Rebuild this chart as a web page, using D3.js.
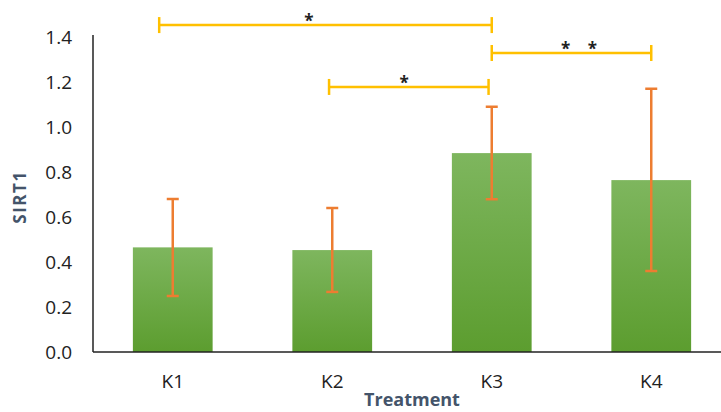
<!DOCTYPE html>
<html lang="en">
<head>
<meta charset="utf-8">
<script src="https://cdn.jsdelivr.net/npm/d3@7"></script>
<style>
  body { margin: 0; background: #fff; }
  svg text { font-family: "Open Sans", "DejaVu Sans", sans-serif; }
</style>
</head>
<body>
<div id="chart"></div>
<script>
// data
var categories = ["K1", "K2", "K3", "K4"];
var means = [0.465, 0.453, 0.884, 0.764];
var errLow = [0.249, 0.267, 0.679, 0.36];
var errHigh = [0.68, 0.64, 1.09, 1.17];
var yTicks = [0, 0.2, 0.4, 0.6, 0.8, 1.0, 1.2, 1.4];

// significance brackets: ends and label spot in category index, level in SIRT1 units
var bracketFrom = [-0.085, 0.98, 2];
var bracketTo = [2, 1.98, 3];
var bracketLevel = [1.453, 1.178, 1.329];
var bracketLabelAt = [0.854, 1.45, 2.547];
var bracketLabel = ["*", "*", "*    *"];

var width = 721, height = 412;
var margin = { top: 37, right: -10, bottom: 60, left: 93 };

var svg = d3.select("#chart").append("svg")
  .attr("width", width)
  .attr("height", height);

var defs = svg.append("defs");
var grad = defs.append("linearGradient")
  .attr("id", "barGrad")
  .attr("x1", 0).attr("y1", 0).attr("x2", 0).attr("y2", 1);
grad.append("stop").attr("offset", "0%").attr("stop-color", "#7eb65e");
grad.append("stop").attr("offset", "100%").attr("stop-color", "#5c9d2f");

var x = d3.scaleBand()
  .domain(categories)
  .range([margin.left, width - margin.right])
  .paddingInner(0.5)
  .paddingOuter(0.25);

// index scale for bracket ends
var xi = d3.scaleLinear()
  .domain([0, 1])
  .range([x("K1") + x.bandwidth() / 2, x("K2") + x.bandwidth() / 2]);

var y = d3.scaleLinear()
  .domain([0, 1.4])
  .range([height - margin.bottom, margin.top]);

// bars
svg.selectAll("rect.bar")
  .data(means)
  .enter().append("rect")
  .attr("class", "bar")
  .attr("x", function(d, i) { return x(categories[i]); })
  .attr("y", function(d) { return y(d); })
  .attr("width", x.bandwidth())
  .attr("height", function(d) { return y(0) - y(d); })
  .style("fill", "url(#barGrad)");

// axes
var yAxis = d3.axisLeft(y)
  .tickValues(yTicks)
  .tickFormat(d3.format(".1f"))
  .tickSize(0)
  .tickPadding(21);

var yGuide = svg.append("g")
  .attr("transform", "translate(" + margin.left + ",0)")
  .call(yAxis);
yGuide.select(".domain").remove();
yGuide.selectAll("text")
  .style("font-size", "19px")
  .style("fill", "#222");

svg.append("line")
  .attr("x1", margin.left).attr("x2", margin.left)
  .attr("y1", y(1.4) - 2).attr("y2", y(0))
  .style("stroke", "#222").style("stroke-width", 1.5);

var xAxis = d3.axisBottom(x).tickSize(0).tickPadding(23);
var xGuide = svg.append("g")
  .attr("transform", "translate(0," + y(0) + ")")
  .call(xAxis);
xGuide.select(".domain").remove();
xGuide.selectAll("text")
  .style("font-size", "19px")
  .style("fill", "#222");

svg.append("line")
  .attr("x1", margin.left).attr("x2", width)
  .attr("y1", y(0)).attr("y2", y(0))
  .style("stroke", "#222").style("stroke-width", 1.5);

// error bars
var eb = svg.selectAll("g.err")
  .data(categories)
  .enter().append("g")
  .attr("class", "err");
eb.append("line")
  .attr("x1", function(d) { return x(d) + x.bandwidth() / 2; })
  .attr("x2", function(d) { return x(d) + x.bandwidth() / 2; })
  .attr("y1", function(d, i) { return y(errLow[i]); })
  .attr("y2", function(d, i) { return y(errHigh[i]); });
eb.append("line")
  .attr("x1", function(d) { return x(d) + x.bandwidth() / 2 - 6; })
  .attr("x2", function(d) { return x(d) + x.bandwidth() / 2 + 6; })
  .attr("y1", function(d, i) { return y(errHigh[i]); })
  .attr("y2", function(d, i) { return y(errHigh[i]); });
eb.append("line")
  .attr("x1", function(d) { return x(d) + x.bandwidth() / 2 - 6; })
  .attr("x2", function(d) { return x(d) + x.bandwidth() / 2 + 6; })
  .attr("y1", function(d, i) { return y(errLow[i]); })
  .attr("y2", function(d, i) { return y(errLow[i]); });
eb.selectAll("line")
  .style("stroke", "#ed7d31")
  .style("stroke-width", 2.5);

// significance brackets
var br = svg.selectAll("g.bracket")
  .data(bracketLevel)
  .enter().append("g")
  .attr("class", "bracket");
br.append("line")
  .attr("x1", function(d, i) { return xi(bracketFrom[i]); })
  .attr("x2", function(d, i) { return xi(bracketTo[i]); })
  .attr("y1", function(d) { return y(d); })
  .attr("y2", function(d) { return y(d); });
br.append("line")
  .attr("x1", function(d, i) { return xi(bracketFrom[i]); })
  .attr("x2", function(d, i) { return xi(bracketFrom[i]); })
  .attr("y1", function(d) { return y(d) - 8; })
  .attr("y2", function(d) { return y(d) + 8; });
br.append("line")
  .attr("x1", function(d, i) { return xi(bracketTo[i]); })
  .attr("x2", function(d, i) { return xi(bracketTo[i]); })
  .attr("y1", function(d) { return y(d) - 8; })
  .attr("y2", function(d) { return y(d) + 8; });
br.selectAll("line")
  .style("stroke", "#ffc000")
  .style("stroke-width", 2.5);
br.append("text")
  .attr("x", function(d, i) { return xi(bracketLabelAt[i]); })
  .attr("y", function(d) { return y(d) + 2; })
  .attr("text-anchor", "middle")
  .attr("xml:space", "preserve")
  .style("font-size", "17px")
  .style("font-weight", "bold")
  .style("fill", "#222")
  .style("white-space", "pre")
  .text(function(d, i) { return bracketLabel[i]; });

// axis titles
svg.append("text")
  .attr("transform", "translate(26,197) rotate(-90)")
  .attr("text-anchor", "middle")
  .style("font-size", "17px")
  .style("font-weight", "bold")
  .style("letter-spacing", "1.5px")
  .style("fill", "#44546a")
  .text("SIRT1");

svg.append("text")
  .attr("x", 412)
  .attr("y", 406)
  .attr("text-anchor", "middle")
  .style("font-size", "18px")
  .style("font-weight", "bold")
  .style("fill", "#44546a")
  .text("Treatment");
</script>
</body>
</html>
